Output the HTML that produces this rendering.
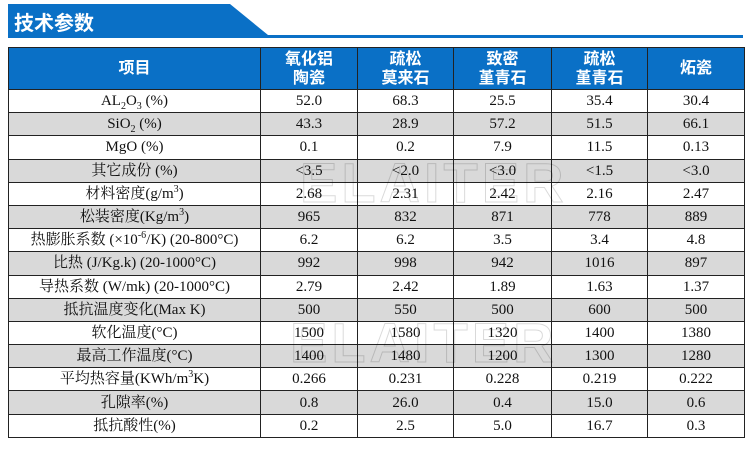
<!DOCTYPE html>
<html><head><meta charset="utf-8"><style>
body{margin:0;width:750px;height:458px;background:#fff;position:relative;overflow:hidden}
.title{position:absolute;left:14px;top:7px;color:#fff;font:bold 20px "Liberation Sans","Noto Sans CJK SC",sans-serif}
table{position:absolute;left:8px;top:47px;border-collapse:collapse;table-layout:fixed;width:736px}
td{border:1px solid #222;text-align:center;padding:0;font:15px "Liberation Serif","Noto Serif CJK SC",serif;color:#111;height:22.2px;line-height:18px}
tr.h td{background:#0a70c6;color:#fff;font:bold 16px "Liberation Sans","Noto Sans CJK SC",sans-serif;height:41px;line-height:19px}
tr:nth-child(odd):not(.h) td{background:#d9d9d9}
sub,sup{font-size:10px;line-height:0}
.wm{position:absolute;font:bold 56px "Liberation Sans",sans-serif;color:transparent;-webkit-text-stroke:1px rgba(0,0,0,0.15);letter-spacing:4px}
</style></head><body>
<svg width="750" height="45" style="position:absolute;left:0;top:0">
<polygon points="8,4 230,4 268,35 743,35 743,38 8,38" fill="#0a70c6"/>
</svg>
<div class="title">技术参数</div>
<table>
<colgroup><col style="width:252px"><col style="width:97px"><col style="width:96px"><col style="width:98px"><col style="width:96px"><col style="width:97px"></colgroup>
<tr class="h"><td>项目</td><td>氧化铝<br>陶瓷</td><td>疏松<br>莫来石</td><td>致密<br>堇青石</td><td>疏松<br>堇青石</td><td>炻瓷</td></tr>
<tr><td>AL<sub>2</sub>O<sub>3</sub> (%)</td><td>52.0</td><td>68.3</td><td>25.5</td><td>35.4</td><td>30.4</td></tr>
<tr><td>SiO<sub>2</sub> (%)</td><td>43.3</td><td>28.9</td><td>57.2</td><td>51.5</td><td>66.1</td></tr>
<tr><td>MgO (%)</td><td>0.1</td><td>0.2</td><td>7.9</td><td>11.5</td><td>0.13</td></tr>
<tr><td>其它成份 (%)</td><td>&lt;3.5</td><td>&lt;2.0</td><td>&lt;3.0</td><td>&lt;1.5</td><td>&lt;3.0</td></tr>
<tr><td>材料密度(g/m<sup>3</sup>)</td><td>2.68</td><td>2.31</td><td>2.42</td><td>2.16</td><td>2.47</td></tr>
<tr><td>松装密度(Kg/m<sup>3</sup>)</td><td>965</td><td>832</td><td>871</td><td>778</td><td>889</td></tr>
<tr><td>热膨胀系数 (×10<sup>-6</sup>/K) (20-800°C)</td><td>6.2</td><td>6.2</td><td>3.5</td><td>3.4</td><td>4.8</td></tr>
<tr><td>比热 (J/Kg.k) (20-1000°C)</td><td>992</td><td>998</td><td>942</td><td>1016</td><td>897</td></tr>
<tr><td>导热系数 (W/mk) (20-1000°C)</td><td>2.79</td><td>2.42</td><td>1.89</td><td>1.63</td><td>1.37</td></tr>
<tr><td>抵抗温度变化(Max K)</td><td>500</td><td>550</td><td>500</td><td>600</td><td>500</td></tr>
<tr><td>软化温度(°C)</td><td>1500</td><td>1580</td><td>1320</td><td>1400</td><td>1380</td></tr>
<tr><td>最高工作温度(°C)</td><td>1400</td><td>1480</td><td>1200</td><td>1300</td><td>1280</td></tr>
<tr><td>平均热容量(KWh/m<sup>3</sup>K)</td><td>0.266</td><td>0.231</td><td>0.228</td><td>0.219</td><td>0.222</td></tr>
<tr><td>孔隙率(%)</td><td>0.8</td><td>26.0</td><td>0.4</td><td>15.0</td><td>0.6</td></tr>
<tr><td>抵抗酸性(%)</td><td>0.2</td><td>2.5</td><td>5.0</td><td>16.7</td><td>0.3</td></tr>
</table>
<div class="wm" style="left:300px;top:150px">ELAITER</div>
<div class="wm" style="left:290px;top:310px">ELAITER</div>
</body></html>
